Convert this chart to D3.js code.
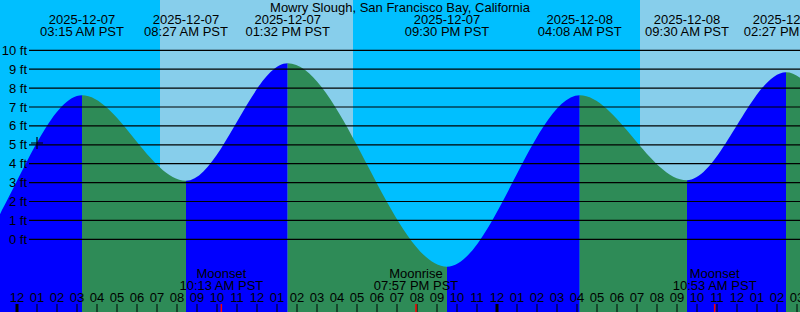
<!DOCTYPE html>
<html>
<head>
<meta charset="utf-8">
<script src="https://cdn.jsdelivr.net/npm/d3@7"></script>
<style>
  body { margin: 0; background: #00bfff; }
  svg { display: block; font-family: "Liberation Sans", Arial, sans-serif; }
</style>
</head>
<body>
<div id="chart"></div>
<script>
// Tide extremes (first two and last two lie outside the labelled range, only shape the curve)
var tideTimes = ["2025-12-06T14:20", "2025-12-06T20:48", "2025-12-07T03:15", "2025-12-07T08:27",
                 "2025-12-07T13:32", "2025-12-07T21:30", "2025-12-08T04:08", "2025-12-08T09:30",
                 "2025-12-08T14:27", "2025-12-08T21:10", "2025-12-09T04:50"];
var tideLevels = [8.9, -1.4, 7.62, 3.1, 9.31, -1.45, 7.62, 3.12, 8.84, -1.0, 7.5];
var tideLabels = [null, null, "03:15 AM PST", "08:27 AM PST", "01:32 PM PST", "09:30 PM PST",
                  "04:08 AM PST", "09:30 AM PST", "02:27 PM PST", null, null];

// Daylight intervals
var sunrises = ["2025-12-07T07:09", "2025-12-08T07:09"];
var sunsets = ["2025-12-07T16:48", "2025-12-08T16:49"];

// Moon events
var moonNames = ["Moonset", "Moonrise", "Moonset"];
var moonTimes = ["2025-12-07T10:13", "2025-12-07T19:57", "2025-12-08T10:53"];
var moonLabels = ["10:13 AM PST", "07:57 PM PST", "10:53 AM PST"];

var feetTicks = [0, 1, 2, 3, 4, 5, 6, 7, 8, 9, 10];

var width = 800, height = 312;
var parse = d3.timeParse("%Y-%m-%dT%H:%M");
var fmtDate = d3.timeFormat("%Y-%m-%d");

var svg = d3.select("#chart").append("svg")
    .attr("width", width)
    .attr("height", height);

var x = d3.scaleTime()
    .domain([parse("2025-12-06T23:09"), parse("2025-12-08T15:09")])
    .range([0, width]);

var y = d3.scaleLinear()
    .domain([0, 10])
    .range([239.3, 50.3]);

// Night background, then day bands
svg.append("rect")
    .attr("width", width).attr("height", height)
    .attr("fill", "#00bfff");

svg.selectAll(".day")
    .data(sunrises)
    .enter()
    .append("rect")
    .attr("x", function (d) { return x(parse(d)); })
    .attr("y", 0)
    .attr("width", function (d, i) { return x(parse(sunsets[i])) - x(parse(d)); })
    .attr("height", height)
    .attr("fill", "#87ceeb");

// Tide curve
var tide = tideTimes.map(function (t, i) { return { t: parse(t), v: tideLevels[i] }; });

var area = d3.area()
    .x(function (d) { return x(d.t); })
    .y0(height)
    .y1(function (d) { return y(d.v); })
    .curve(d3.curveMonotoneX);

var defs = svg.append("defs");
for (var i = 0; i < tide.length - 1; i++) {
    var x0 = x(tide[i].t), x1 = x(tide[i + 1].t);
    defs.append("clipPath")
        .attr("id", "seg" + i)
        .append("rect")
        .attr("x", x0).attr("y", 0)
        .attr("width", x1 - x0).attr("height", height);
    svg.append("path")
        .datum(tide)
        .attr("d", area)
        .attr("clip-path", "url(#seg" + i + ")")
        .attr("fill", tide[i + 1].v > tide[i].v ? "#0000ff" : "#2e8b57");
}

// Foot lines and labels
svg.selectAll(".grid")
    .data(feetTicks)
    .enter()
    .append("line")
    .attr("x1", 29).attr("x2", width)
    .attr("y1", function (d) { return y(d); })
    .attr("y2", function (d) { return y(d); })
    .attr("stroke", "#000")
    .attr("stroke-width", 1.2);

svg.selectAll(".ft")
    .data(feetTicks)
    .enter()
    .append("text")
    .attr("x", 27)
    .attr("y", function (d) { return y(d) + 4.5; })
    .attr("text-anchor", "end")
    .attr("font-size", 13)
    .text(function (d) { return d + " ft"; });

// small cross marker
svg.append("path")
    .attr("d", "M31,143H43M37,137V149")
    .attr("stroke", "#000")
    .attr("stroke-width", 1.2);

// Title
svg.append("text")
    .attr("x", width / 2).attr("y", 12)
    .attr("text-anchor", "middle")
    .attr("font-size", 13)
    .text("Mowry Slough, San Francisco Bay, California");

// High / low labels
var labelled = tide.filter(function (d, i) { return tideLabels[i]; });
var labelText = tideLabels.filter(function (d) { return d; });
var tl = svg.selectAll(".tl")
    .data(labelled)
    .enter()
    .append("g")
    .attr("transform", function (d) { return "translate(" + x(d.t) + ",0)"; });
tl.append("text")
    .attr("y", 24).attr("text-anchor", "middle").attr("font-size", 13)
    .text(function (d) { return fmtDate(d.t); });
tl.append("text")
    .attr("y", 36).attr("text-anchor", "middle").attr("font-size", 13)
    .text(function (d, i) { return labelText[i]; });

// Moon labels
var ml = svg.selectAll(".ml")
    .data(moonTimes)
    .enter()
    .append("g")
    .attr("transform", function (d) { return "translate(" + x(parse(d)) + ",0)"; });
ml.append("text")
    .attr("y", 278).attr("text-anchor", "middle").attr("font-size", 13)
    .text(function (d, i) { return moonNames[i]; });
ml.append("text")
    .attr("y", 290).attr("text-anchor", "middle").attr("font-size", 13)
    .text(function (d, i) { return moonLabels[i]; });

// Hour axis
var hours = x.ticks(d3.timeHour.every(1));
svg.selectAll(".hl")
    .data(hours)
    .enter()
    .append("text")
    .attr("x", function (d) { return x(d); })
    .attr("y", 302)
    .attr("text-anchor", "middle")
    .attr("font-size", 13)
    .text(d3.timeFormat("%I"));

svg.selectAll(".ht")
    .data(hours)
    .enter()
    .append("line")
    .attr("x1", function (d) { return x(d); })
    .attr("x2", function (d) { return x(d); })
    .attr("y1", 304).attr("y2", height)
    .attr("stroke", "#000")
    .attr("stroke-width", function (d) { return d.getHours() === 0 ? 3 : 1; });

svg.selectAll(".mt")
    .data(moonTimes)
    .enter()
    .append("line")
    .attr("x1", function (d) { return x(parse(d)); })
    .attr("x2", function (d) { return x(parse(d)); })
    .attr("y1", 304).attr("y2", height)
    .attr("stroke", "#ff0000")
    .attr("stroke-width", 1.5);
</script>
</body>
</html>
